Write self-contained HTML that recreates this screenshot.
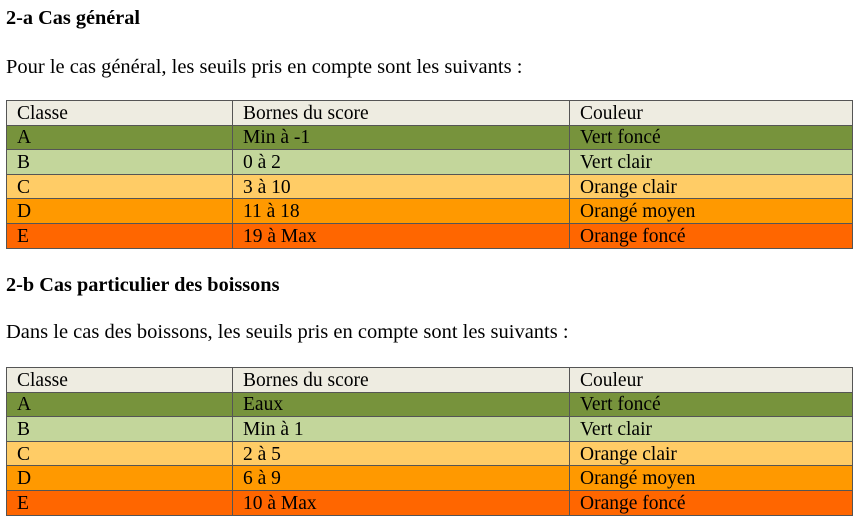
<!DOCTYPE html>
<html><head><meta charset="utf-8"><style>
body{margin:0;width:866px;height:526px;background:#fff;position:relative;overflow:hidden;font-family:"Liberation Serif",serif;color:#000}
.t{position:absolute;font-size:20.5px;white-space:nowrap;line-height:22px}
.b{font-weight:bold;font-size:20.3px}
table{position:absolute;left:6px;width:847px;border-collapse:collapse;font-size:19.5px}
td{border:1.5px solid #555;padding:2px 0 0 10px;height:21.6px;line-height:20px;vertical-align:middle}
.h td{background:#eeece1}.a td{background:#77933c}.bb td{background:#c3d69b}
.c td{background:#ffcc66}.d td{background:#ff9900}.e td{background:#ff6600}
</style></head><body>
<div class="t b" style="left:6px;top:7px">2-a Cas général</div>
<div class="t" style="left:6px;top:56px">Pour le cas général, les seuils pris en compte sont les suivants :</div>
<table style="top:100px">
<colgroup><col style="width:226px"><col style="width:337px"><col></colgroup>
<tr class="h"><td>Classe</td><td>Bornes du score</td><td>Couleur</td></tr>
<tr class="a"><td>A</td><td>Min à -1</td><td>Vert foncé</td></tr>
<tr class="bb"><td>B</td><td>0 à 2</td><td>Vert clair</td></tr>
<tr class="c"><td>C</td><td>3 à 10</td><td>Orange clair</td></tr>
<tr class="d"><td>D</td><td>11 à 18</td><td>Orangé moyen</td></tr>
<tr class="e"><td>E</td><td>19 à Max</td><td>Orange foncé</td></tr>
</table>
<div class="t b" style="left:6px;top:274px">2-b Cas particulier des boissons</div>
<div class="t" style="left:6px;top:321px">Dans le cas des boissons, les seuils pris en compte sont les suivants :</div>
<table style="top:367px">
<colgroup><col style="width:226px"><col style="width:337px"><col></colgroup>
<tr class="h"><td>Classe</td><td>Bornes du score</td><td>Couleur</td></tr>
<tr class="a"><td>A</td><td>Eaux</td><td>Vert foncé</td></tr>
<tr class="bb"><td>B</td><td>Min à 1</td><td>Vert clair</td></tr>
<tr class="c"><td>C</td><td>2 à 5</td><td>Orange clair</td></tr>
<tr class="d"><td>D</td><td>6 à 9</td><td>Orangé moyen</td></tr>
<tr class="e"><td>E</td><td>10 à Max</td><td>Orange foncé</td></tr>
</table>
</body></html>
